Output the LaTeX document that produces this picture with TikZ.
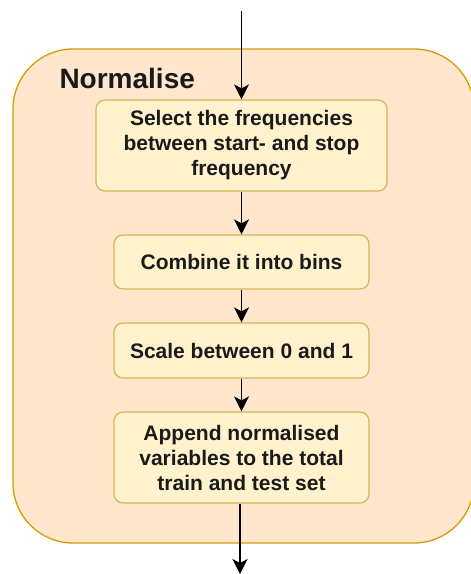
\documentclass[tikz,border=0pt]{standalone}
\usepackage{fontspec}
\setmainfont{Liberation Sans}
\usetikzlibrary{arrows.meta}
\definecolor{outerfill}{HTML}{FFE6CC}
\definecolor{outerdraw}{HTML}{D79B00}
\definecolor{innerfill}{HTML}{FFF2CC}
\definecolor{innerdraw}{HTML}{D6B656}
\definecolor{txt}{HTML}{1A1A1A}
\begin{document}
\begin{tikzpicture}[x=1pt,y=-1pt,
  stepbox/.style={draw=innerdraw, fill=innerfill, line width=1.2pt, rounded corners=9pt,
    minimum width=#1, inner sep=0pt, align=center, text=txt,
    font=\fontsize{21}{25}\selectfont\bfseries},
  flow/.style={line width=1.6pt, -{Stealth[length=15pt,width=15pt,inset=4pt]}}]
\useasboundingbox (0,0) rectangle (471,574);
\begin{scope}
\clip (0,0) rectangle (471,574);
\draw[draw=outerdraw, fill=outerfill, line width=1.3pt, rounded corners=60pt]
  (13,49) rectangle (474,543);
\end{scope}
\node[font=\fontsize{28}{30}\selectfont\bfseries, text=txt, anchor=base west] (title) at (56,88) {Normalise};
\node[stepbox=291pt, minimum height=91pt] (s1) at (241.5,145.5)
  {Select the frequencies\\between start- and stop\\frequency};
\node[stepbox=255pt, minimum height=54pt] (s2) at (241.5,262) {Combine it into bins};
\node[stepbox=255pt, minimum height=55pt] (s3) at (241.5,350.5) {Scale between 0 and 1};
\node[stepbox=255pt, minimum height=91pt] (s4) at (241.5,457.5)
  {Append normalised\\variables to the total\\train and test set};
\coordinate (in) at (241.5,11);
\coordinate (out) at (240,574);
\draw[flow] (in) -- (s1.north);
\draw[flow] (s1) -- (s2);
\draw[flow] (s2) -- (s3);
\draw[flow] (s3) -- (s4);
\draw[flow] (s4.south -| out) -- (out);
\end{tikzpicture}
\end{document}
